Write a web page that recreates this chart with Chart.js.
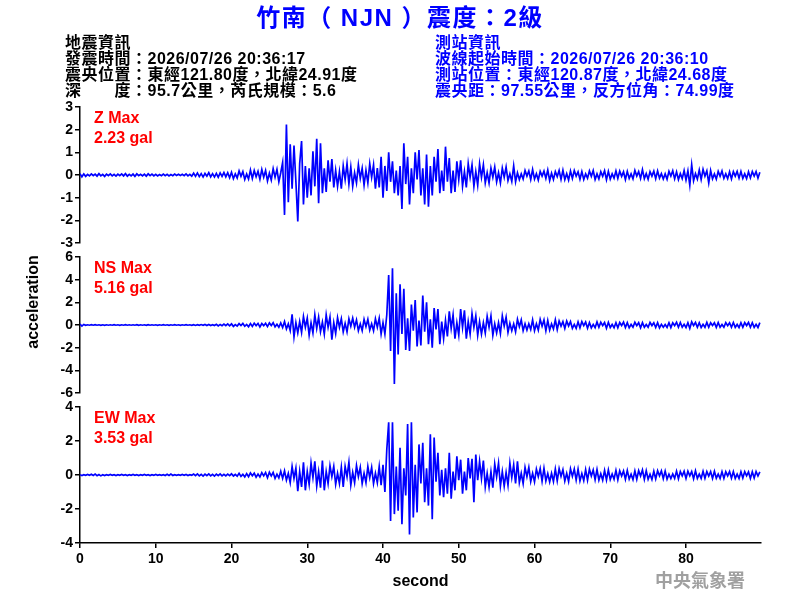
<!DOCTYPE html>
<html lang="zh-Hant">
<head>
<meta charset="utf-8">
<title>竹南（NJN）震度：2級</title>
<script src="https://cdn.jsdelivr.net/npm/chart.js@4.4.1/dist/chart.umd.min.js"></script>
<style>
  body { margin: 0; background: #fff; }
  #wrap {
    position: relative; width: 800px; height: 600px; overflow: hidden;
    font-family: Arial, "Liberation Sans", "Noto Sans CJK TC", sans-serif;
    font-weight: bold;
  }
  canvas { position: absolute; left: 0; top: 0; }
  .txt { position: absolute; white-space: nowrap; }
  #title { left: 0; top: 4px; width: 800px; text-align: center; font-size: 24px; line-height: 28px; letter-spacing: 1.5px; color: #0000ff; }
  .info { font-size: 16px; line-height: 16px; letter-spacing: 0.5px; }
  #quakeInfo { left: 65px; top: 35px; color: #000; }
  #stationInfo { left: 435px; top: 35px; color: #0000ff; }
  .peak { left: 94px; font-size: 16px; line-height: 20px; color: #ff0000; }
  #ylabel { left: -27px; top: 292px; width: 120px; text-align: center; font-size: 16px; line-height: 20px; transform: rotate(-90deg); }
  #agency { left: 655px; top: 570px; font-size: 18px; line-height: 22px; color: #a0a0a0; }
</style>
</head>
<body>
<div id="wrap">
  <canvas id="panelZ" width="800" height="600"></canvas>
  <canvas id="panelNS" width="800" height="600"></canvas>
  <canvas id="panelEW" width="800" height="600"></canvas>

  <div id="title" class="txt">竹南（ NJN ）震度：2級</div>
  <div id="quakeInfo" class="txt info">
    地震資訊<br>
    發震時間：2026/07/26 20:36:17<br>
    震央位置：東經121.80度，北緯24.91度<br>
    深　　度：95.7公里，芮氏規模：5.6
  </div>
  <div id="stationInfo" class="txt info">
    測站資訊<br>
    波線起始時間：2026/07/26 20:36:10<br>
    測站位置：東經120.87度，北緯24.68度<br>
    震央距：97.55公里，反方位角：74.99度
  </div>
  <div id="ylabel" class="txt">acceleration</div>
  <div id="agency" class="txt">中央氣象署</div>
</div>

<script>
// seismogram, one value every 0.25 s (gal)
const sampleStep = 0.25;
const timeMax = 89.9;
const xTickValues = [0, 10, 20, 30, 40, 50, 60, 70, 80];

const components = ['Z', 'NS', 'EW'];
const peakGal = ['2.23', '5.16', '3.53'];
const yRanges = [3, 6, 4];
const yStepSizes = [1, 2, 2];

const zAccel = [
  0.06,-0.08,0.05,-0.06, 0.03,-0.04,0.05,-0.03, 0.04,-0.05,0.06,-0.04, 0.03,-0.06,0.04,-0.03, 0.05,-0.04,0.03,-0.05,
  0.04,-0.03,0.05,-0.04, 0.06,-0.05,0.03,-0.04, 0.04,-0.06,0.05,-0.03, 0.03,-0.04,0.04,-0.05, 0.05,-0.03,0.04,-0.04,
  0.03,-0.04,0.02,-0.03, 0.04,-0.03,0.03,-0.04, 0.02,-0.03,0.04,-0.02, 0.03,-0.02,0.03,-0.03, 0.05,-0.04,0.03,-0.05,
  0.08,-0.06,0.09,-0.07, 0.06,-0.09,0.07,-0.05, 0.1,-0.08,0.06,-0.09, 0.07,-0.1,0.09,-0.06, 0.11,-0.08,0.1,-0.12,
  0.12,-0.16,0.05,-0.13, 0.18,-0.06,0.15,-0.2, 0.04,-0.18,0.22,-0.15, 0.2,-0.08,0.16,-0.19, 0.24,-0.1,0.2,-0.26,
  0.08,-0.22,0.28,-0.1, 0.25,-0.3,0.1,0.55, -1.76,2.23,-1.2,1.35, -0.6,1.3,-0.3,-2.05, 0.5,1.5,-1.3,0.4,
  -1.0,0.3,-0.9,1.05, -0.5,1.6,-1.25,1.4, -0.8,0.3,-0.75,0.65, -0.3,0.7,-0.55,0.2, -0.5,0.15,-0.6,0.4,
  -0.2,0.5,-0.4,0.35, -0.5,0.1,-0.35,0.45, -0.15,0.3,-0.45,0.2, -0.35,0.5,-0.1,0.45, -0.6,0.3,-0.55,0.8,
  -1.0,0.4,-0.7,1.0, -0.3,0.6,-0.8,0.2, -0.9,0.4,-1.5,1.4, -0.4,0.8,-1.3,0.3, -0.8,1.0,-0.2,1.1,
  -0.9,0.3,-1.3,0.9, -1.4,0.4,-0.9,0.8, -0.3,1.15,-0.8,0.2, -0.7,1.25,-0.3,0.75, -0.8,0.2,-0.75,0.6,
  -0.2,0.65,-0.5,0.15, -0.55,0.5,-0.1,0.45, -0.5,0.15,-0.45,0.5, -0.1,0.45,-0.35,0.1, -0.35,0.3,-0.1,0.35,
  -0.3,0.1,-0.35,0.3, -0.1,0.35,-0.25,0.05, -0.28,0.4,-0.3,0.1, -0.2,0.05,-0.18,0.2, -0.05,0.18,-0.2,0.24,
  -0.18,0.06,-0.22,0.16, -0.05,0.17,-0.15,0.22, -0.24,0.08,-0.2,0.15, -0.07,0.2,-0.19,0.21, -0.2,0.06,-0.22,0.18,
  -0.15,0.2,-0.05,0.14, -0.19,0.15,-0.2,0.05, -0.14,0.18,-0.06,0.2, -0.2,0.05,-0.17,0.15, -0.06,0.19,-0.21,0.16,
  -0.18,0.05,-0.14,0.18, -0.15,0.17,-0.06,0.14, -0.2,0.16,-0.15,0.05, -0.17,0.2,-0.05,0.15, -0.15,0.24,-0.16,0.06,
  -0.19,0.15,-0.05,0.17, -0.16,0.18,-0.14,0.06, -0.18,0.05,-0.19,0.16, -0.05,0.19,-0.17,0.14, -0.2,0.06,-0.16,0.2,
  -0.22,0.18,-0.45,0.45, -0.25,0.06,-0.18,0.22, -0.2,0.25,-0.05,0.18, -0.35,0.2,-0.17,0.05, -0.18,0.16,-0.06,0.18,
  -0.15,0.05,-0.16,0.14, -0.17,0.15,-0.05,0.16, -0.14,0.16,-0.15,0.05, -0.16,0.14,-0.13,0.15, -0.05,0.15,-0.14,0.12
];

const nsAccel = [
  0.08,-0.1,0.05,-0.03, 0.02,-0.02,0.03,-0.02, 0.03,-0.02,0.02,-0.03, 0.02,-0.03,0.02,-0.02, 0.02,-0.02,0.03,-0.02,
  0.02,-0.03,0.02,-0.02, 0.03,-0.02,0.02,-0.02, 0.02,-0.02,0.03,-0.03, 0.02,-0.02,0.02,-0.03, 0.03,-0.02,0.02,-0.02,
  0.02,-0.03,0.02,-0.02, 0.03,-0.02,0.02,-0.03, 0.02,-0.02,0.03,-0.02, 0.02,-0.03,0.02,-0.02, 0.03,-0.02,0.02,-0.03,
  0.03,-0.04,0.03,-0.03, 0.04,-0.03,0.05,-0.04, 0.05,-0.04,0.03,-0.05, 0.06,-0.08,0.05,-0.06, 0.08,-0.06,0.1,-0.07,
  0.1,-0.12,0.04,-0.1, 0.12,-0.05,0.14,-0.11, 0.05,-0.15,0.12,-0.13, 0.16,-0.05,0.14,-0.17, 0.13,-0.06,0.15,-0.14,
  0.18,-0.05,0.2,-0.16, 0.06,-0.2,0.18,-0.22, 0.3,-0.35,0.1,-0.5, 0.95,-1.05,0.2,-0.7, 0.3,-0.65,0.75,-0.2,
  0.6,-0.9,0.2,-0.7, 0.9,-0.3,0.7,-0.6, 0.25,-0.8,0.9,-0.2, 0.7,-1.3,0.2,-0.75, 0.65,-0.2,0.55,-0.6,
  0.15,-0.6,0.55,-0.1, 0.6,-0.2,0.45,-0.5, 0.1,-0.5,0.5,-0.15, 0.5,-0.45,0.1,-0.5, 0.55,-0.2,0.6,-0.8,
  0.2,-0.8,0.9,4.4, -2.3,5.0,-5.2,2.8, -2.6,3.6,-0.8,3.2, -2.2,0.6,-2.3,1.8, -0.5,2.2,-1.9,0.4,
  -1.8,2.6,-0.6,2.0, -1.7,0.5,-2.0,1.5, -0.4,1.4,-1.7,0.3, -1.2,0.4,-1.0,1.2, -0.3,0.9,-1.2,0.2,
  -0.9,1.4,-0.2,1.3, -1.2,0.3,-0.8,1.0, -0.2,0.8,-0.9,0.3, -0.8,0.2,-0.7,0.75, -0.2,0.8,-0.9,0.1,
  -0.7,0.2,-0.75,0.8, -0.1,0.7,-0.65,0.15, -0.5,0.1,-0.6,0.5, -0.15,0.45,-0.5,0.1, -0.45,0.1,-0.4,0.45,
  -0.5,0.1,-0.45,0.5, -0.1,0.45,-0.5,0.4, -0.45,0.1,-0.35,0.45, -0.4,0.35,-0.1,0.3, -0.3,0.35,-0.08,0.3,
  -0.3,0.05,-0.3,0.28, -0.25,0.3,-0.06,0.26, -0.28,0.22,-0.25,0.05, -0.24,0.27,-0.2,0.25, -0.05,0.22,-0.28,0.24,
  -0.22,0.05,-0.24,0.2, -0.25,0.22,-0.05,0.26, -0.23,0.2,-0.25,0.05, -0.2,0.24,-0.06,0.2, -0.24,0.21,-0.2,0.05,
  -0.2,0.22,-0.05,0.2, -0.22,0.2,-0.25,0.06, -0.2,0.05,-0.21,0.2, -0.23,0.2,-0.05,0.24, -0.2,0.22,-0.2,0.06,
  -0.22,0.2,-0.3,0.28, -0.05,0.22,-0.2,0.2, -0.22,0.06,-0.2,0.23, -0.2,0.2,-0.05,0.2, -0.21,0.22,-0.2,0.05,
  -0.2,0.21,-0.06,0.2, -0.2,0.22,-0.21,0.05, -0.22,0.2,-0.2,0.21, -0.05,0.22,-0.2,0.2, -0.21,0.06,-0.22,0.21
];

const ewAccel = [
  0.02,-0.03,0.02,-0.02, 0.03,-0.02,0.04,-0.03, 0.05,-0.04,0.03,-0.05, 0.02,-0.03,0.02,-0.02, 0.03,-0.02,0.02,-0.03,
  0.02,-0.02,0.03,-0.02, 0.02,-0.03,0.02,-0.02, 0.03,-0.02,0.02,-0.03, 0.02,-0.02,0.03,-0.02, 0.02,-0.03,0.02,-0.02,
  0.03,-0.02,0.02,-0.02, 0.02,-0.03,0.04,-0.03, 0.05,-0.03,0.02,-0.02, 0.02,-0.02,0.03,-0.02, 0.03,-0.03,0.02,-0.02,
  0.05,-0.04,0.06,-0.05, 0.04,-0.06,0.05,-0.04, 0.06,-0.05,0.04,-0.06, 0.05,-0.04,0.06,-0.05, 0.04,-0.05,0.05,-0.04,
  0.07,-0.06,0.03,-0.07, 0.1,-0.08,0.04,-0.11, 0.08,-0.1,0.12,-0.04, 0.11,-0.13,0.05,-0.12, 0.14,-0.05,0.15,-0.16,
  0.16,-0.06,0.15,-0.2, 0.05,-0.17,0.22,-0.2, 0.25,-0.3,0.1,-0.45, 0.5,-0.2,0.4,-0.95, 0.2,-0.7,0.75,-0.9,
  0.2,-0.55,0.7,-0.15, 0.8,-0.65,0.2,-0.75, 0.85,-0.9,0.2,-0.5, 0.55,-0.1,0.5,-0.55, 0.1,-0.5,0.45,-0.7,
  0.5,-0.1,0.75,-0.6, 0.15,-0.45,0.55,-0.1, 0.45,-0.5,0.1,-0.45, 0.5,-0.15,0.45,-0.5, 0.1,-0.45,0.5,-0.6,
  0.6,-1.0,1.5,3.1, -2.7,3.1,-2.3,0.5, -2.1,1.6,-2.9,0.4, -1.2,3.0,-3.5,3.1, -2.5,0.6,-2.2,1.8,
  -0.5,1.9,-1.6,0.4, -1.8,2.4,-2.6,2.2, -0.4,1.3,-1.2,0.3, -1.3,0.4,-1.1,1.3, -1.4,0.2,-0.9,1.1,
  -0.3,0.9,-1.1,0.2, -0.9,1.0,-0.2,0.95, -1.6,1.2,-0.3,0.8, -0.2,0.85,-0.7,0.1, -0.7,0.2,-0.75,0.65,
  -0.1,0.7,-0.65,0.2, -0.65,0.15,-0.6,0.7, -0.15,0.6,-0.5,0.8, -0.45,0.1,-0.5,0.45, -0.1,0.45,-0.38,0.1,
  -0.4,0.35,-0.1,0.38, -0.36,0.4,-0.35,0.08, -0.4,0.1,-0.38,0.35, -0.34,0.38,-0.08,0.32, -0.35,0.1,-0.38,0.36,
  -0.08,0.35,-0.3,0.34, -0.35,0.08,-0.33,0.32, -0.3,0.34,-0.06,0.3, -0.28,0.32,-0.3,0.07, -0.3,0.27,-0.29,0.3,
  -0.26,0.06,-0.25,0.27, -0.28,0.25,-0.06,0.24, -0.25,0.27,-0.24,0.05, -0.27,0.24,-0.25,0.26, -0.06,0.3,-0.26,0.25,
  -0.25,0.05,-0.26,0.22, -0.23,0.25,-0.05,0.24, -0.22,0.23,-0.24,0.05, -0.21,0.06,-0.2,0.23, -0.22,0.2,-0.05,0.22,
  -0.2,0.22,-0.05,0.2, -0.22,0.25,-0.2,0.05, -0.2,0.22,-0.19,0.2, -0.06,0.2,-0.2,0.22, -0.19,0.05,-0.2,0.2,
  -0.2,0.19,-0.05,0.2, -0.19,0.2,-0.2,0.05, -0.2,0.19,-0.18,0.2, -0.05,0.18,-0.2,0.19, -0.18,0.2,-0.06,0.18
];

const traces = [zAccel, nsAccel, ewAccel];
const canvasIds = ['panelZ', 'panelNS', 'panelEW'];
// top of each plot area in the 800x600 page; every plot is 136px tall
const panelTops = [107, 257, 407];
const plotHeight = 136;

Chart.defaults.font.family = 'Arial, "Liberation Sans", sans-serif';
Chart.defaults.font.weight = 'bold';
Chart.defaults.font.size = 14;
Chart.defaults.color = '#000';

function drawPanel(k) {
  const isBottom = k === components.length - 1;
  const points = traces[k].map((v, i) => ({ x: i * sampleStep, y: v }));
  const top = panelTops[k];

  new Chart(document.getElementById(canvasIds[k]), {
    type: 'line',
    data: {
      datasets: [{
        data: points,
        borderColor: '#0000ff',
        borderWidth: 1.7,
        pointRadius: 0,
        tension: 0
      }]
    },
    options: {
      responsive: false,
      animation: false,
      devicePixelRatio: 1,
      layout: {
        padding: { top: top, left: 0, right: 39, bottom: isBottom ? 7 : 600 - top - plotHeight }
      },
      plugins: { legend: { display: false }, tooltip: { enabled: false } },
      scales: {
        x: {
          type: 'linear',
          min: 0,
          max: timeMax,
          display: isBottom,
          afterFit: (s) => { if (isBottom) s.height = 50; },
          afterBuildTicks: (s) => { s.ticks = xTickValues.map(v => ({ value: v })); },
          ticks: { padding: 3, maxRotation: 0 },
          grid: { drawOnChartArea: false, color: '#000', lineWidth: 1.5, tickLength: 5 },
          border: { color: '#000', width: 1.5 },
          title: { display: true, text: 'second', font: { size: 16, weight: 'bold' }, padding: { top: 0, bottom: 2 } }
        },
        y: {
          min: -yRanges[k],
          max: yRanges[k],
          afterFit: (s) => { s.width = 80; },
          ticks: { stepSize: yStepSizes[k], padding: 2 },
          grid: { drawOnChartArea: false, color: '#000', lineWidth: 1.5, tickLength: 5 },
          border: { color: '#000', width: 1.5 }
        }
      }
    }
  });

  // red peak label in the upper left of each panel
  const lab = document.createElement('div');
  lab.className = 'txt peak';
  lab.style.top = (top + 1) + 'px';
  lab.innerHTML = components[k] + ' Max<br>' + peakGal[k] + ' gal';
  document.getElementById('wrap').appendChild(lab);
}

components.forEach((c, k) => drawPanel(k));
</script>
</body>
</html>
